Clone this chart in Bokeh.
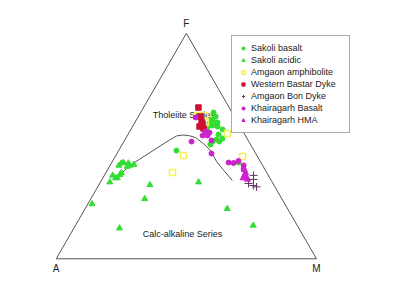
import numpy as np
from bokeh.plotting import figure
from bokeh.models import Range1d, Legend, LegendItem
from bokeh.core.properties import value
from bokeh.embed import file_html
from bokeh.resources import INLINE

# ---- data (ternary percentages A, F, M) ----
sakoli_basalt_A = [7.1, 7.2, 9.4, 8.9, 7.8, 11.1, 10.4, 8.7, 7.4, 12.8, 10.1, 9.4, 12.0, 14.0, 15.4, 11.3, 8.6, 29.8]
sakoli_basalt_F = [64.9, 63.1, 61.8, 60.5, 60.5, 60.0, 59.1, 58.7, 57.4, 58.2, 55.1, 53.4, 52.9, 52.0, 50.7, 52.0, 42.7, 48.0]
sakoli_basalt_M = [28.0, 29.7, 28.8, 30.6, 31.7, 28.9, 30.5, 32.6, 35.2, 29.0, 34.8, 37.2, 35.1, 34.0, 33.9, 36.7, 48.7, 22.2]

sakoli_acidic_A = [53.8, 52.8, 55.2, 51.1, 51.0, 49.3, 52.3, 59.8, 58.6, 56.9, 55.9, 59.3, 62.4, 74.1, 47.6, 52.7, 28.3, 23.2, 68.9, 16.9]
sakoli_acidic_F = [42.4, 42.7, 41.4, 42.4, 41.4, 41.8, 40.9, 37.0, 35.9, 37.3, 38.1, 35.8, 34.0, 24.3, 32.8, 26.6, 34.0, 22.2, 13.6, 14.8]
sakoli_acidic_M = [3.8, 4.5, 3.4, 6.5, 7.6, 8.9, 6.8, 3.2, 5.5, 5.8, 6.0, 4.9, 3.6, 1.6, 19.6, 20.7, 37.7, 54.6, 17.5, 68.3]

amgaon_amph_A = [13.9, 11.2, 12.4, 6.4, 28.2, 36.2, 5.7]
amgaon_amph_F = [63.6, 63.6, 60.5, 55.6, 45.8, 38.3, 45.4]
amgaon_amph_M = [22.5, 25.2, 27.1, 38.0, 26.0, 25.5, 48.9]

bastar_A = [11.8, 13.0, 13.7, 15.6, 14.5, 13.8]
bastar_F = [67.1, 63.1, 60.9, 58.7, 57.8, 60.0]
bastar_M = [21.1, 23.9, 25.4, 25.7, 27.7, 26.2]

bon_dyke_A = [5.7, 6.6, 9.4, 8.0, 7.1]
bon_dyke_F = [37.0, 35.2, 33.4, 32.5, 31.9]
bon_dyke_M = [57.3, 58.2, 57.2, 59.5, 61.0]

kh_basalt_A = [15.1, 14.4, 13.1, 14.5, 16.4, 14.1, 22.0, 17.0, 12.4, 10.6, 8.3, 7.3, 8.1]
kh_basalt_F = [62.7, 56.5, 56.0, 54.7, 54.7, 52.5, 52.0, 46.7, 42.7, 42.5, 43.4, 41.4, 39.8]
kh_basalt_M = [22.2, 29.1, 30.9, 30.8, 28.9, 33.4, 26.0, 36.3, 44.9, 46.9, 48.3, 51.3, 52.1]

kh_hma_A = [8.0, 8.2, 9.2, 8.8, 10.3, 8.9]
kh_hma_F = [39.4, 38.1, 37.0, 36.1, 35.8, 35.2]
kh_hma_M = [52.6, 53.7, 53.8, 55.1, 53.9, 55.9]

# Tholeiite / calc-alkaline boundary
bound_A = [56.4, 49.7, 30.5, 26.5, 24.0, 21.8, 19.6, 17.9, 16.7, 16.8, 16.0, 15.0]
bound_F = [37.7, 42.1, 52.5, 54.5, 54.9, 54.7, 53.8, 51.1, 48.0, 43.2, 39.2, 34.7]
bound_M = [5.9, 8.2, 17.0, 19.0, 21.1, 23.5, 26.6, 31.0, 35.3, 40.0, 44.8, 50.3]

# triangle frame vertices A, M, F
frame_A = [100, 0, 0, 100]
frame_F = [0, 0, 100, 0]
frame_M = [0, 100, 0, 0]

vertex_labels = ["A", "M", "F"]
series_labels = ["Sakoli basalt", "Sakoli acidic", "Amgaon amphibolite",
                 "Western Bastar Dyke", "Amgaon Bon Dyke", "Khairagarh Basalt",
                 "Khairagarh HMA"]


def tern(A, F, M):
    A = np.asarray(A, float); F = np.asarray(F, float); M = np.asarray(M, float)
    tot = A + F + M
    f = F / tot
    m = M / tot
    return m + f / 2.0, f * np.sqrt(3) / 2.0


FONT = "Liberation Sans"
TXT = "#222222"

p = figure(width=411, height=298, output_backend="svg", toolbar_location=None,
           x_range=Range1d(-0.2140, 1.3650), y_range=Range1d(-0.1525, 0.9923),
           x_axis_location=None, y_axis_location=None, min_border=0,
           background_fill_color="white", border_fill_color="white")
p.grid.visible = False
p.outline_line_color = None

fx, fy = tern(frame_A, frame_F, frame_M)
p.line(fx, fy, line_color="#555555", line_width=1)

bx, by = tern(bound_A, bound_F, bound_M)
p.line(bx, by, line_color="#555555", line_width=1)

# vertex labels
vx, vy = tern([100, 0, 0], [0, 0, 100], [0, 100, 0])
p.text(x=list(vx[:2]), y=list(vy[:2]), text=vertex_labels[:2], y_offset=4,
       text_align="center", text_baseline="top", text_font=value(FONT),
       text_font_size="10px", text_color=TXT)
p.text(x=[vx[2]], y=[vy[2]], text=[vertex_labels[2]], y_offset=-4,
       text_align="center", text_baseline="bottom", text_font=value(FONT),
       text_font_size="10px", text_color=TXT)

# field labels
tx, ty = tern([19], [64], [17])
p.text(x=list(tx), y=list(ty), text=["Tholeiite Series"], text_align="center",
       text_baseline="middle", text_font=value(FONT), text_font_size="9px", text_color=TXT)
cx, cy = tern([46], [11], [43])
p.text(x=list(cx), y=list(cy), text=["Calc-alkaline Series"], text_align="center",
       text_baseline="middle", text_font=value(FONT), text_font_size="9px", text_color=TXT)

GREEN = "#33dd33"
MAG = "#cc22cc"

renderers = []
x, y = tern(sakoli_basalt_A, sakoli_basalt_F, sakoli_basalt_M)
renderers.append(p.scatter(x, y, marker="circle", size=5, fill_color=GREEN, line_color=GREEN))
x, y = tern(sakoli_acidic_A, sakoli_acidic_F, sakoli_acidic_M)
renderers.append(p.scatter(x, y, marker="triangle", size=6, fill_color=GREEN, line_color=GREEN))
x, y = tern(amgaon_amph_A, amgaon_amph_F, amgaon_amph_M)
renderers.append(p.scatter(x, y, marker="square", size=6, fill_color=None, line_color="#f2f25a", line_width=1.6))
x, y = tern(bastar_A, bastar_F, bastar_M)
renderers.append(p.scatter(x, y, marker="square", size=5.5, fill_color="#cc1133", line_color="#cc1133"))
x, y = tern(bon_dyke_A, bon_dyke_F, bon_dyke_M)
renderers.append(p.scatter(x, y, marker="cross", size=8, fill_color=None, line_color="#663366", line_width=1))
x, y = tern(kh_basalt_A, kh_basalt_F, kh_basalt_M)
renderers.append(p.scatter(x, y, marker="circle", size=5, fill_color=MAG, line_color=MAG))
x, y = tern(kh_hma_A, kh_hma_F, kh_hma_M)
renderers.append(p.scatter(x, y, marker="triangle", size=6, fill_color=MAG, line_color=MAG))

legend = Legend(items=[LegendItem(label=lab, renderers=[r]) for lab, r in zip(series_labels, renderers)],
                location=(231, 165), glyph_width=8, glyph_height=8, label_height=10,
                spacing=2, padding=7, margin=0, label_standoff=4, label_width=91,
                label_text_font=FONT, label_text_font_size="9px", label_text_color=TXT,
                border_line_color="#555555", border_line_width=1,
                background_fill_color="white", background_fill_alpha=1.0)
p.add_layout(legend, "center")

open("out.html", "w").write(file_html(p, INLINE))
